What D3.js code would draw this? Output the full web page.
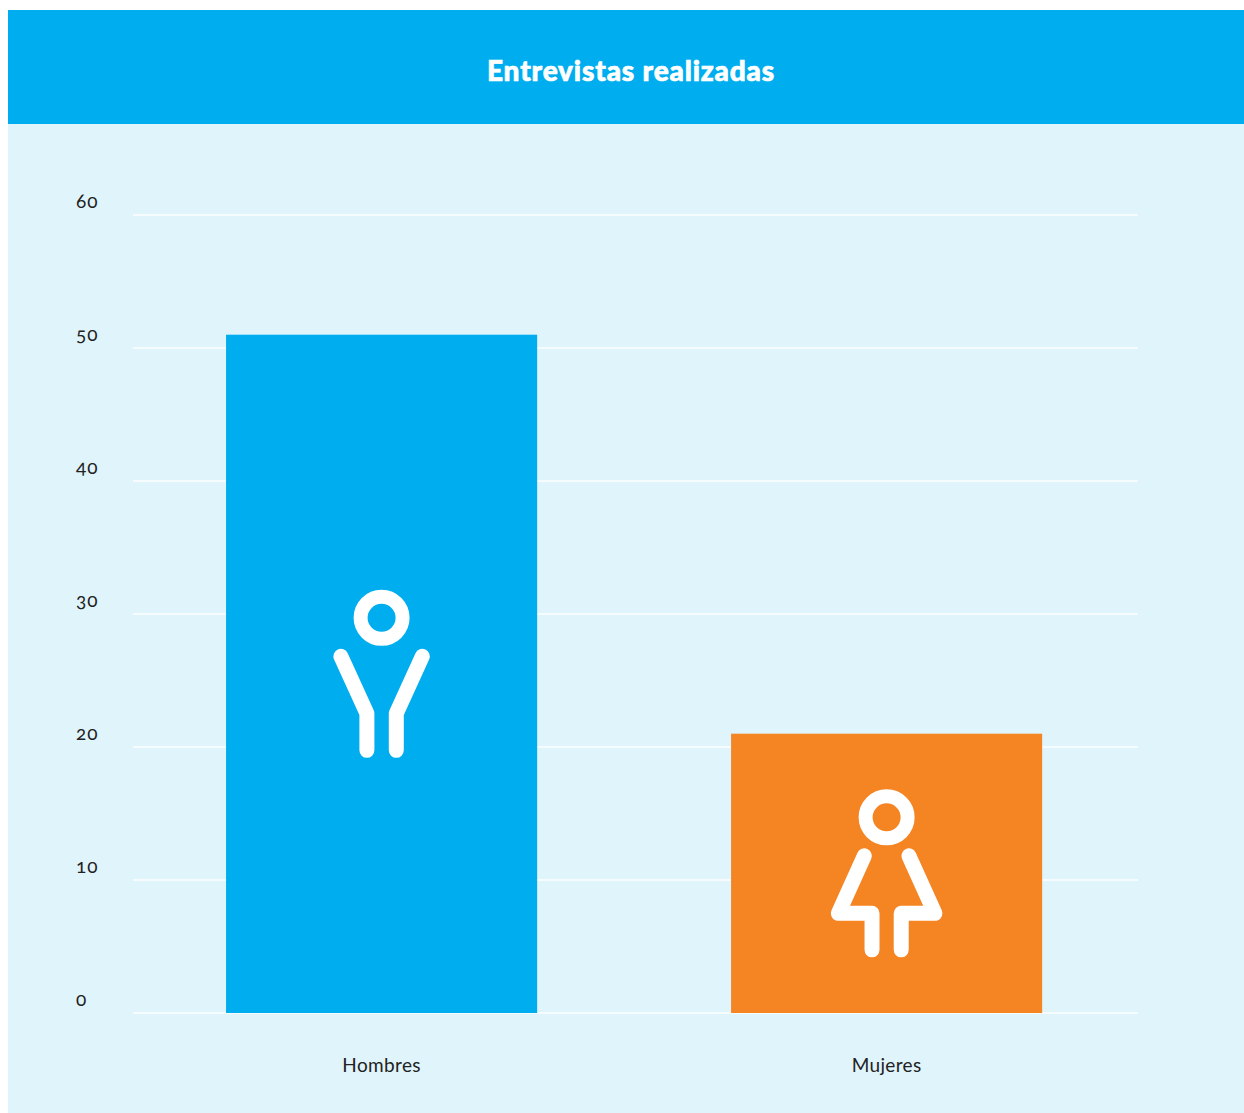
<!DOCTYPE html>
<html><head><meta charset="utf-8">
<script src="https://cdn.jsdelivr.net/npm/d3@7"></script>
<style>
html,body{margin:0;padding:0;background:#fff}
svg{display:block}
text{font-family:Lato,"Open Sans",sans-serif;font-feature-settings:"onum" 1;font-variant-numeric:oldstyle-nums}
</style></head><body><div id="chart"></div>
<script>
const title = "Entrevistas realizadas";
const categories = ["Hombres", "Mujeres"];
const values = [51, 21];
const barColors = ["#00aeef", "#f58423"];
const yTicks = [0, 10, 20, 30, 40, 50, 60];
const iconLines = {
  Hombres: [[[-40.7,-17.5],[-14.7,39.5],[-14.7,76.5]], [[40.7,-17.5],[14.7,39.5],[14.7,76.5]]],
  Mujeres: [[[-22.3,-17.5],[-48.3,40],[-14.6,40],[-14.6,76.5]], [[22.3,-17.5],[48.3,40],[14.6,40],[14.6,76.5]]]
};

const W = 1244, H = 1113;
const svg = d3.select("#chart").append("svg").attr("width", W).attr("height", H);
svg.append("rect").attr("x",8).attr("y",10).attr("width",1236).attr("height",1103).attr("fill","#e0f4fc");
svg.append("rect").attr("x",8).attr("y",10).attr("width",1236).attr("height",114).attr("fill","#00aeef");
svg.append("text").attr("x",631).attr("y",80.5).attr("text-anchor","middle")
  .attr("font-size",28).attr("font-weight",900).attr("fill","#fff")
  .attr("stroke","#fff").attr("stroke-width",0.7).attr("letter-spacing",0.85).text(title);

const x = d3.scaleBand().domain(categories).range([133.5,1138.5]).paddingInner(0.384).paddingOuter(0.187).align(0.49);
const y = d3.scaleLinear().domain([0,60]).range([1013,215]);

const yAxis = svg.append("g").attr("transform","translate(133,0)")
  .call(d3.axisLeft(y).tickValues(yTicks).tickSize(-1005).tickFormat(d3.format("d")).offset(0));
yAxis.select(".domain").remove();
yAxis.selectAll(".tick line").attr("stroke","#f6fcfe").attr("stroke-width",2);
yAxis.selectAll(".tick text").attr("x",-57).attr("dy",0).attr("y",-7.5).attr("text-anchor","start")
  .attr("font-size",19).attr("letter-spacing",1).attr("fill","#222").style("font-family","Lato,sans-serif");

svg.selectAll("rect.bar").data(categories).join("rect").attr("class","bar")
  .attr("x",d=>x(d)).attr("width",x.bandwidth())
  .attr("y",(d,i)=>y(values[i])).attr("height",(d,i)=>y(0)-y(values[i]))
  .attr("fill",(d,i)=>barColors[i]);

const xAxis = svg.append("g").attr("transform","translate(0,1013)")
  .call(d3.axisBottom(x).tickSize(0).offset(0));
xAxis.select(".domain").remove();
xAxis.selectAll(".tick text").attr("y",58.5).attr("dy",0)
  .attr("font-size",19).attr("letter-spacing",0.35).attr("fill","#222").style("font-family","Lato,sans-serif");

const line = d3.line();
const icons = svg.selectAll("g.icon").data(categories).join("g").attr("class","icon")
  .attr("transform",(d,i)=>`translate(${x(d)+x.bandwidth()/2},${(y(values[i])+y(0))/2})`)
  .attr("fill","none").attr("stroke","#fff").attr("stroke-linecap","round").attr("stroke-linejoin","round");
icons.append("circle").attr("cy",-56).attr("r",21).attr("stroke-width",14);
icons.selectAll("path").data(d=>iconLines[d]).join("path").attr("d",d=>line(d)).attr("stroke-width",15);
</script></body></html>
